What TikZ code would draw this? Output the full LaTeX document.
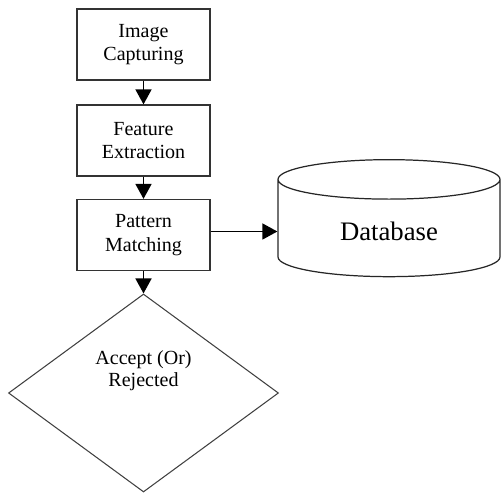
\documentclass[tikz,border=0pt]{standalone}
\usepackage{fontspec}
\setmainfont{Liberation Serif}
\usetikzlibrary{shapes.geometric,arrows.meta}

\begin{document}
\begin{tikzpicture}[
  stepbox/.style={draw=black!80, line width=0.7pt, minimum width=2.66cm, minimum height=1.42cm, align=center, font=\rmfamily\fontsize{11.4}{13.5}\selectfont},
  arr/.style={-{Triangle[length=0.3cm,width=0.32cm]}, line width=0.9pt}
]
\useasboundingbox (0,0) rectangle (10.02,-9.88);
\node[stepbox] (a) at (2.87,-0.89) {Image\\Capturing};
\node[stepbox] (b) at (2.87,-2.81) {Feature\\Extraction};
\node[stepbox] (c) at (2.87,-4.70) {Pattern\\Matching};
\node[diamond, draw=black!75, line width=0.6pt, minimum width=5.4cm, minimum height=3.96cm, inner sep=0pt,
  label={[yshift=0.44cm, align=center, font=\rmfamily\fontsize{11.4}{12.5}\selectfont]center:Accept (Or)\\Rejected}] (d) at (2.87,-7.86) {};
\node[cylinder, shape border rotate=90, draw=black!85, line width=0.7pt, aspect=0.36,
  minimum height=2.34cm, minimum width=4.44cm, font=\rmfamily\fontsize{15.2}{17}\selectfont] (db) at (7.78,-4.63) {Database};
\draw[arr] (a) -- (b);
\draw[arr] (b) -- (c);
\draw[arr] (c) -- (d);
\draw[arr] (db.west -| c.east) -- (db.west);
\end{tikzpicture}
\end{document}
